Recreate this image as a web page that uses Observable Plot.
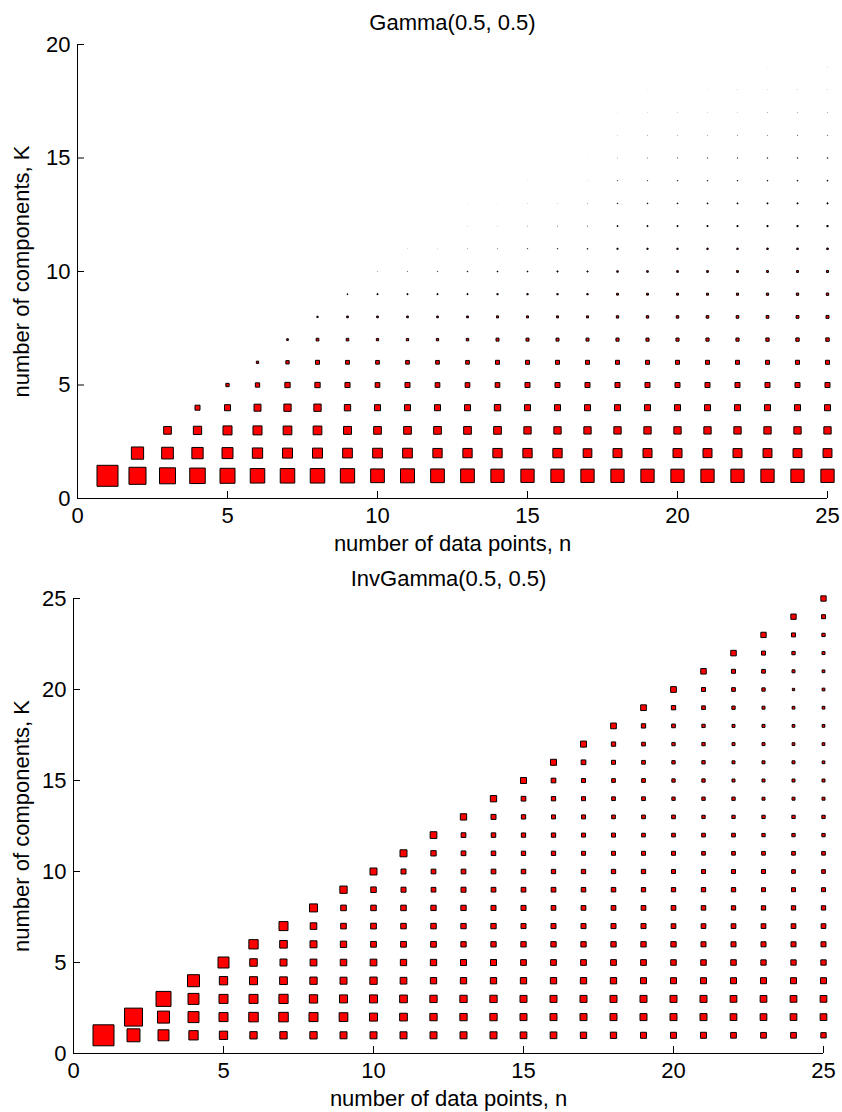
<!DOCTYPE html>
<html>
<head>
<meta charset="utf-8">
<script src="https://cdn.jsdelivr.net/npm/d3@7"></script>
<script src="https://cdn.jsdelivr.net/npm/@observablehq/plot@0.6"></script>
<style>
  body { margin: 0; background: #fff; }
  #chart svg { display: block; }
</style>
</head>
<body>
<div id="chart"></div>
<script>
// Number of data points n (one column of squares each)
const dataPoints = [1, 2, 3, 4, 5, 6, 7, 8, 9, 10, 11, 12, 13, 14, 15, 16, 17, 18, 19, 20, 21, 22, 23, 24, 25];

// Probability of K components given n points, Gamma(0.5, 0.5) prior.
// Row i holds K = 1..n for n = dataPoints[i].
const gammaProb = [
  [1],
  [0.66, 0.34],
  [0.58, 0.31, 0.134],
  [0.545, 0.29, 0.156, 0.057],
  [0.51, 0.274, 0.184, 0.082, 0.025],
  [0.477, 0.241, 0.184, 0.111, 0.042, 0.012],
  [0.477, 0.227, 0.172, 0.121, 0.064, 0.025, 0.0066],
  [0.477, 0.227, 0.172, 0.121, 0.064, 0.036, 0.0165, 0.0038],
  [0.464, 0.213, 0.142, 0.09, 0.059, 0.033, 0.015, 0.0066, 0.0015],
  [0.426, 0.213, 0.134, 0.082, 0.05, 0.031, 0.012, 0.0066, 0.0023, 0.0002],
  [0.444, 0.213, 0.134, 0.082, 0.057, 0.031, 0.012, 0.0066, 0.0023, 0.0004, 0.0001],
  [0.426, 0.196, 0.134, 0.082, 0.05, 0.031, 0.012, 0.0066, 0.0023, 0.0006, 0.0001, 0.00005],
  [0.426, 0.196, 0.134, 0.082, 0.05, 0.031, 0.014, 0.0073, 0.0023, 0.0011, 0.0002, 0.0001, 0.00005],
  [0.401, 0.196, 0.134, 0.09, 0.05, 0.036, 0.0204, 0.0091, 0.0033, 0.0015, 0.0003, 0.0001, 0.00005, 0.00003],
  [0.401, 0.196, 0.121, 0.082, 0.057, 0.036, 0.0204, 0.0091, 0.0038, 0.0015, 0.0006, 0.0002, 0.0001, 0.00005, 0.00002],
  [0.401, 0.196, 0.121, 0.082, 0.057, 0.036, 0.0204, 0.0091, 0.0038, 0.0023, 0.0008, 0.0003, 0.0001, 0.00005, 0.00002, 0.00001],
  [0.401, 0.172, 0.121, 0.082, 0.057, 0.036, 0.0204, 0.0091, 0.0038, 0.0023, 0.0011, 0.0004, 0.0002, 0.00008, 0.00004, 0.00002, 0.00001],
  [0.401, 0.184, 0.121, 0.082, 0.057, 0.036, 0.022, 0.012, 0.0075, 0.005, 0.003, 0.0018, 0.001, 0.0005, 0.0002, 0.0001, 0.00005, 0.00002],
  [0.401, 0.184, 0.121, 0.082, 0.057, 0.036, 0.022, 0.013, 0.008, 0.0055, 0.0033, 0.002, 0.0012, 0.0006, 0.0003, 0.0002, 0.00008, 0.00004, 0.00002],
  [0.40, 0.184, 0.121, 0.082, 0.057, 0.036, 0.022, 0.014, 0.0085, 0.006, 0.0036, 0.0022, 0.0014, 0.0008, 0.0004, 0.0002, 0.0001, 0.00005, 0.00002, 0.00001],
  [0.40, 0.184, 0.121, 0.082, 0.057, 0.036, 0.023, 0.015, 0.009, 0.0066, 0.004, 0.0025, 0.0016, 0.0009, 0.0006, 0.0002, 0.0001, 0.00006, 0.00003, 0.00001, 0.00001],
  [0.40, 0.184, 0.121, 0.082, 0.057, 0.036, 0.023, 0.016, 0.01, 0.007, 0.0043, 0.0028, 0.0018, 0.001, 0.0007, 0.0003, 0.0001, 0.0001, 0.00004, 0.00002, 0.00001, 0],
  [0.40, 0.18, 0.121, 0.082, 0.057, 0.036, 0.025, 0.017, 0.011, 0.0075, 0.0047, 0.003, 0.002, 0.0011, 0.0008, 0.0003, 0.0002, 0.0001, 0.00005, 0.00002, 0.00001, 0, 0],
  [0.40, 0.18, 0.121, 0.082, 0.057, 0.037, 0.026, 0.018, 0.012, 0.008, 0.005, 0.0033, 0.0021, 0.0012, 0.0009, 0.0004, 0.0002, 0.0001, 0.00005, 0.00002, 0.00001, 0, 0, 0],
  [0.40, 0.18, 0.121, 0.082, 0.057, 0.037, 0.027, 0.02, 0.013, 0.009, 0.0055, 0.0036, 0.0023, 0.0014, 0.001, 0.0004, 0.0002, 0.0001, 0.0001, 0.00003, 0.00001, 0, 0, 0, 0]
];

// Same quantity under an InvGamma(0.5, 0.5) prior.
const invGammaProb = [
  [1],
  [0.38, 0.73],
  [0.274, 0.327, 0.51],
  [0.196, 0.274, 0.274, 0.327],
  [0.156, 0.184, 0.184, 0.156, 0.274],
  [0.121, 0.205, 0.184, 0.145, 0.128, 0.196],
  [0.121, 0.205, 0.192, 0.134, 0.111, 0.131, 0.184],
  [0.121, 0.184, 0.156, 0.121, 0.105, 0.111, 0.099, 0.145],
  [0.111, 0.172, 0.145, 0.111, 0.096, 0.09, 0.071, 0.071, 0.121],
  [0.111, 0.145, 0.145, 0.121, 0.102, 0.074, 0.074, 0.069, 0.069, 0.111],
  [0.111, 0.134, 0.134, 0.102, 0.09, 0.074, 0.069, 0.069, 0.057, 0.057, 0.111],
  [0.111, 0.121, 0.121, 0.09, 0.09, 0.074, 0.069, 0.064, 0.05, 0.05, 0.064, 0.102],
  [0.111, 0.121, 0.121, 0.09, 0.082, 0.064, 0.064, 0.064, 0.057, 0.05, 0.05, 0.05, 0.09],
  [0.111, 0.121, 0.121, 0.09, 0.082, 0.064, 0.064, 0.057, 0.05, 0.05, 0.046, 0.046, 0.057, 0.09],
  [0.102, 0.111, 0.111, 0.09, 0.074, 0.064, 0.057, 0.057, 0.05, 0.046, 0.042, 0.042, 0.042, 0.05, 0.082],
  [0.102, 0.111, 0.111, 0.09, 0.074, 0.064, 0.057, 0.05, 0.05, 0.042, 0.042, 0.042, 0.036, 0.042, 0.05, 0.082],
  [0.09, 0.111, 0.111, 0.09, 0.074, 0.064, 0.057, 0.05, 0.046, 0.042, 0.036, 0.036, 0.036, 0.036, 0.036, 0.05, 0.082],
  [0.09, 0.111, 0.111, 0.09, 0.074, 0.064, 0.057, 0.05, 0.046, 0.042, 0.036, 0.036, 0.031, 0.031, 0.031, 0.036, 0.042, 0.074],
  [0.082, 0.111, 0.111, 0.082, 0.074, 0.064, 0.057, 0.05, 0.042, 0.042, 0.036, 0.031, 0.031, 0.031, 0.031, 0.031, 0.031, 0.042, 0.074],
  [0.082, 0.111, 0.111, 0.082, 0.069, 0.064, 0.05, 0.05, 0.042, 0.036, 0.036, 0.031, 0.031, 0.025, 0.025, 0.025, 0.025, 0.031, 0.042, 0.074],
  [0.082, 0.111, 0.111, 0.082, 0.069, 0.057, 0.05, 0.046, 0.042, 0.036, 0.031, 0.031, 0.025, 0.025, 0.025, 0.025, 0.025, 0.025, 0.031, 0.036, 0.069],
  [0.074, 0.102, 0.102, 0.082, 0.069, 0.057, 0.05, 0.042, 0.042, 0.036, 0.031, 0.031, 0.025, 0.025, 0.02, 0.02, 0.02, 0.02, 0.025, 0.031, 0.036, 0.069],
  [0.074, 0.102, 0.102, 0.082, 0.064, 0.057, 0.05, 0.042, 0.036, 0.036, 0.031, 0.025, 0.025, 0.02, 0.02, 0.02, 0.02, 0.02, 0.02, 0.025, 0.031, 0.036, 0.064],
  [0.074, 0.102, 0.102, 0.082, 0.064, 0.057, 0.05, 0.042, 0.036, 0.031, 0.031, 0.025, 0.025, 0.02, 0.02, 0.02, 0.017, 0.017, 0.017, 0.012, 0.02, 0.025, 0.036, 0.064],
  [0.064, 0.102, 0.102, 0.082, 0.064, 0.057, 0.05, 0.042, 0.036, 0.031, 0.031, 0.025, 0.025, 0.02, 0.02, 0.017, 0.017, 0.017, 0.017, 0.017, 0.017, 0.02, 0.025, 0.036, 0.064]
];

const xTicks = [0, 5, 10, 15, 20, 25];
const gammaYTicks = [0, 5, 10, 15, 20];
const invGammaYTicks = [0, 5, 10, 15, 20, 25];

const xLabel = "number of data points, n";
const yLabel = "number of components, K";

// Flatten a triangular table into {n, K, p} records
function toRecords(rows) {
  return rows.flatMap((row, i) =>
    row.map((p, j) => ({n: dataPoints[i], K: j + 1, p}))
  ).filter(d => d.p > 0);
}

const FONT = "'Liberation Sans', Arial, Helvetica, sans-serif";
const FS = 22;

function panel({title, rows, yTicks, yMax, marginTop, marginRight, marginBottom, marginLeft}) {
  const width = 842, height = 556;
  const plotW = width - marginLeft - marginRight;
  const plotH = height - marginTop - marginBottom;
  const records = toRecords(rows);
  // very small probabilities fade out, as sub-pixel markers do
  const fade = d => Math.min(1, Math.sqrt(d.p / 0.002));
  return Plot.plot({
    width, height, marginTop, marginRight, marginBottom, marginLeft,
    style: {fontFamily: FONT, fontSize: FS + "px", color: "#000", background: "#fff", overflow: "visible"},
    x: {domain: [0, 25]},
    y: {domain: [0, yMax]},
    r: {type: "sqrt", domain: [0, 1], range: [0, 11.85]},
    marks: [
      Plot.dot(records, {
        x: "n", y: "K", r: "p", symbol: "square",
        fill: "#ff0000", stroke: "#000", strokeWidth: 1,
        strokeOpacity: fade, fillOpacity: fade
      }),
      // axis lines with inward ticks
      Plot.ruleY([0], {stroke: "#000"}),
      Plot.ruleX([0], {stroke: "#000"}),
      Plot.tickX(xTicks, {x: d => d, stroke: "#000", insetTop: plotH - 7}),
      Plot.tickY(yTicks, {y: d => d, stroke: "#000", insetRight: plotW - 7}),
      Plot.axisX({ticks: xTicks, tickSize: 0, tickPadding: 9, label: null, fontSize: FS}),
      Plot.axisY({ticks: yTicks, tickSize: 0, tickPadding: 7, label: null, fontSize: FS}),
      Plot.text([title], {frameAnchor: "top", dy: -(marginTop - 14), fontSize: FS, fill: "#000"}),
      Plot.text([xLabel], {frameAnchor: "bottom", dy: 52, fontSize: FS, fill: "#000"}),
      Plot.text([yLabel], {frameAnchor: "left", textAnchor: "middle", dx: -(marginLeft - 21), rotate: -90, fontSize: FS, fill: "#000"})
    ]
  });
}

const chart = document.getElementById("chart");
chart.append(panel({
  title: "Gamma(0.5, 0.5)", rows: gammaProb, yTicks: gammaYTicks, yMax: 20,
  marginTop: 44, marginRight: 15, marginBottom: 58, marginLeft: 77
}));
chart.append(panel({
  title: "InvGamma(0.5, 0.5)", rows: invGammaProb, yTicks: invGammaYTicks, yMax: 25,
  marginTop: 42, marginRight: 19, marginBottom: 59, marginLeft: 73
}));
</script>
</body>
</html>
